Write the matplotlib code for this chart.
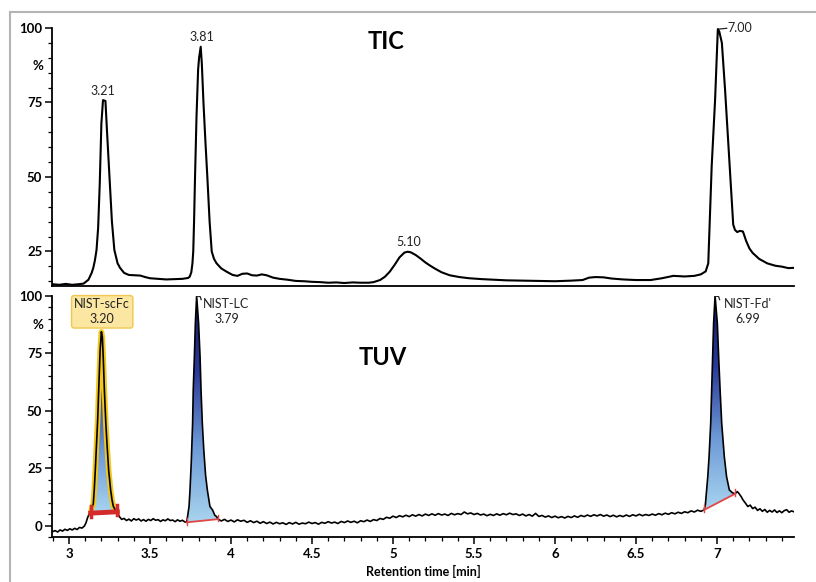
import numpy as np
import matplotlib.pyplot as plt
from matplotlib.colors import LinearSegmentedColormap
from matplotlib.patches import Polygon, Rectangle
from matplotlib.ticker import MultipleLocator

plt.rcParams['font.family'] = ['Lato', 'DejaVu Sans']

# TIC trace (time [min], % intensity)
tic = [
    (2.90, 14.0), (2.94, 13.8), (2.98, 14.1), (3.02, 13.8), (3.06, 14.0), (3.09, 14.2),
    (3.12, 15.5), (3.14, 17.8), (3.15, 19.5), (3.16, 22.0), (3.17, 25.5), (3.18, 33.0),
    (3.19, 48.0), (3.20, 68.0), (3.21, 75.8), (3.225, 75.5), (3.235, 65.0), (3.25, 50.0),
    (3.265, 35.0), (3.28, 25.5), (3.30, 21.0), (3.315, 19.5), (3.34, 17.8), (3.37, 17.1),
    (3.40, 17.0), (3.44, 16.9), (3.47, 16.4), (3.50, 16.0), (3.55, 15.8), (3.60, 15.6),
    (3.65, 15.7), (3.70, 15.8), (3.735, 16.1), (3.745, 16.5), (3.755, 18.0), (3.762, 21.0),
    (3.767, 25.0), (3.772, 35.0), (3.778, 50.0), (3.787, 70.0), (3.797, 86.0), (3.803, 90.0),
    (3.813, 93.7), (3.820, 88.0), (3.830, 75.0), (3.842, 62.0), (3.854, 50.0), (3.868, 35.0),
    (3.881, 25.0), (3.895, 22.5), (3.911, 21.0), (3.94, 19.3), (3.973, 18.2), (4.01, 17.1),
    (4.04, 16.8), (4.07, 17.5), (4.10, 17.6), (4.13, 17.0), (4.16, 16.9), (4.19, 17.3),
    (4.22, 17.0), (4.26, 16.2), (4.30, 15.8), (4.35, 15.5), (4.40, 15.1), (4.45, 15.0),
    (4.50, 14.8), (4.55, 14.7), (4.60, 14.5), (4.65, 14.6), (4.70, 14.4), (4.75, 14.6),
    (4.80, 14.5), (4.85, 14.5), (4.88, 14.7), (4.92, 15.4), (4.95, 16.5), (4.98, 18.2),
    (5.01, 20.5), (5.04, 23.0), (5.07, 24.6), (5.09, 24.9), (5.11, 24.7), (5.14, 23.8),
    (5.17, 22.6), (5.20, 21.3), (5.23, 20.2), (5.26, 19.2), (5.30, 18.0), (5.35, 17.0),
    (5.41, 16.4), (5.47, 16.0), (5.55, 15.7), (5.62, 15.5), (5.70, 15.3), (5.80, 15.2),
    (5.90, 15.1), (6.00, 15.0), (6.10, 15.2), (6.17, 15.4), (6.21, 16.2), (6.25, 16.4),
    (6.30, 16.3), (6.35, 15.9), (6.42, 15.6), (6.50, 15.4), (6.59, 15.4), (6.66, 16.0),
    (6.73, 16.8), (6.80, 16.6), (6.86, 16.8), (6.90, 17.3), (6.93, 18.3), (6.946, 21.0),
    (6.955, 35.0), (6.967, 53.5), (6.978, 65.0), (6.988, 75.8), (6.998, 90.0), (7.005, 99.6),
    (7.014, 98.8), (7.030, 95.0), (7.050, 79.0), (7.070, 61.0), (7.090, 43.0), (7.100, 34.0),
    (7.111, 32.2), (7.125, 31.5), (7.14, 31.9), (7.16, 31.7), (7.18, 28.5), (7.20, 26.0),
    (7.22, 24.5), (7.26, 22.5), (7.31, 21.0), (7.36, 20.2), (7.40, 19.9), (7.44, 19.4),
    (7.475, 19.5),
]
tic_labels = [(3.21, 77.0, "3.21"), (3.82, 94.8, "3.81"), (5.10, 26.0, "5.10")]

# TUV trace, split in pieces
tuv_start = [
    (2.900, -2.6), (2.915, -2.2), (2.930, -2.8), (2.945, -1.9), (2.960, -2.4), (2.975, -1.6),
    (2.990, -2.1), (3.005, -1.4), (3.020, -1.9), (3.035, -1.2), (3.050, -1.7), (3.065, -0.8),
    (3.080, -1.1), (3.095, -0.2), (3.105, 1.2), (3.115, 3.5), (3.125, 5.0), (3.134, 5.4),
]
tuv_scfc = [
    (3.140, 7.5), (3.150, 9.5), (3.156, 15.5), (3.163, 25.0), (3.170, 36.0), (3.177, 46.0),
    (3.185, 62.0), (3.192, 76.0), (3.200, 84.3), (3.206, 82.0), (3.212, 72.0), (3.219, 58.0),
    (3.227, 45.0), (3.235, 35.0), (3.245, 24.0), (3.257, 15.5), (3.266, 11.0), (3.274, 8.3),
    (3.286, 6.8), (3.298, 6.0),
]
tuv_mid1 = [
    (3.310, 4.0), (3.325, 2.7), (3.340, 3.1), (3.355, 2.2), (3.370, 2.8), (3.385, 2.0),
    (3.400, 3.0), (3.415, 2.4), (3.430, 2.9), (3.445, 2.0), (3.460, 2.6), (3.475, 1.9),
    (3.490, 2.7), (3.505, 2.2), (3.520, 3.0), (3.535, 2.3), (3.550, 2.6), (3.565, 1.8),
    (3.580, 2.5), (3.595, 2.1), (3.610, 2.9), (3.625, 2.2), (3.640, 2.4), (3.655, 1.7),
    (3.670, 2.5), (3.685, 1.9), (3.700, 2.3), (3.715, 1.6), (3.726, 1.4),
]
tuv_lc = [
    (3.732, 4.0), (3.741, 8.3), (3.747, 15.5), (3.755, 28.0), (3.763, 44.5), (3.767, 59.0),
    (3.774, 73.5), (3.780, 88.0), (3.788, 99.9), (3.800, 88.0), (3.809, 73.5), (3.815, 59.0),
    (3.823, 44.5), (3.832, 33.0), (3.843, 22.0), (3.854, 15.5), (3.870, 8.3), (3.886, 6.8),
    (3.900, 4.5), (3.911, 3.9), (3.920, 2.8),
]
tuv_mid2 = [
    (3.94, 2.0), (3.96, 2.7), (3.98, 1.8), (4.00, 2.4), (4.02, 1.6), (4.04, 2.5), (4.06, 1.9),
    (4.08, 2.3), (4.10, 1.4), (4.12, 2.1), (4.14, 1.3), (4.16, 1.9), (4.18, 1.0), (4.20, 1.7),
    (4.22, 0.9), (4.24, 1.5), (4.26, 0.7), (4.28, 1.4), (4.30, 0.8), (4.32, 1.2), (4.34, 0.5),
    (4.36, 1.3), (4.38, 0.7), (4.40, 1.4), (4.42, 0.6), (4.44, 1.1), (4.46, 0.8), (4.48, 1.5),
    (4.50, 0.9), (4.52, 1.3), (4.54, 0.6), (4.56, 1.4), (4.58, 1.0), (4.60, 1.7), (4.62, 1.1),
    (4.64, 1.5), (4.66, 0.9), (4.68, 1.8), (4.70, 1.3), (4.72, 2.0), (4.74, 1.4), (4.76, 1.9),
    (4.78, 1.2), (4.80, 2.1), (4.82, 1.7), (4.84, 2.4), (4.86, 1.8), (4.88, 2.6), (4.90, 2.2),
    (4.92, 3.1), (4.94, 2.7), (4.96, 3.6), (4.98, 3.2), (5.00, 4.1), (5.02, 3.5), (5.04, 4.3),
    (5.06, 3.8), (5.08, 4.5), (5.10, 3.9), (5.12, 4.7), (5.14, 4.1), (5.16, 4.8), (5.18, 4.2),
    (5.20, 5.0), (5.22, 4.4), (5.24, 5.1), (5.26, 4.5), (5.28, 5.2), (5.30, 4.6), (5.32, 5.0),
    (5.34, 4.4), (5.36, 5.3), (5.38, 4.7), (5.40, 5.2), (5.42, 4.8), (5.44, 5.9), (5.46, 5.1),
    (5.48, 5.5), (5.50, 4.8), (5.52, 5.3), (5.54, 4.6), (5.56, 5.0), (5.58, 4.3), (5.60, 4.9),
    (5.62, 4.4), (5.64, 5.1), (5.66, 4.5), (5.68, 5.2), (5.70, 4.7), (5.72, 5.4), (5.74, 4.8),
    (5.76, 5.1), (5.78, 4.4), (5.80, 5.0), (5.82, 4.2), (5.84, 4.8), (5.86, 4.1), (5.88, 5.3),
    (5.90, 4.0), (5.92, 4.4), (5.94, 3.7), (5.96, 4.2), (5.98, 3.5), (6.00, 4.1), (6.02, 3.4),
    (6.04, 3.9), (6.06, 3.3), (6.08, 4.0), (6.10, 3.5), (6.12, 4.2), (6.14, 3.6), (6.16, 4.4),
    (6.18, 3.9), (6.20, 4.6), (6.22, 4.0), (6.24, 4.7), (6.26, 4.2), (6.28, 4.8), (6.30, 4.1),
    (6.32, 4.6), (6.34, 3.9), (6.36, 4.5), (6.38, 3.8), (6.40, 4.4), (6.42, 3.9), (6.44, 4.6),
    (6.46, 4.0), (6.48, 4.7), (6.50, 4.2), (6.52, 4.9), (6.54, 4.3), (6.56, 4.8), (6.58, 4.4),
    (6.60, 5.0), (6.62, 4.5), (6.64, 5.2), (6.66, 4.7), (6.68, 5.4), (6.70, 4.9), (6.72, 5.6),
    (6.74, 5.1), (6.76, 5.8), (6.78, 5.3), (6.80, 6.0), (6.82, 5.6), (6.84, 6.4), (6.86, 5.9),
    (6.88, 6.7), (6.90, 6.2), (6.92, 6.8),
]
tuv_fd = [
    (6.928, 9.0), (6.936, 15.5), (6.943, 21.3), (6.951, 30.0), (6.961, 44.5), (6.967, 59.0),
    (6.973, 73.5), (6.979, 88.0), (6.988, 99.9), (7.002, 88.0), (7.010, 73.5), (7.019, 59.0),
    (7.029, 44.5), (7.045, 30.0), (7.059, 21.3), (7.076, 15.5), (7.095, 14.3), (7.111, 13.8),
]
tuv_end = [
    (7.125, 14.8), (7.135, 14.0), (7.150, 12.5), (7.160, 11.2), (7.175, 9.8), (7.190, 8.3),
    (7.205, 8.9), (7.220, 7.4), (7.235, 8.0), (7.250, 6.6), (7.265, 7.3), (7.280, 6.2),
    (7.295, 7.0), (7.310, 5.8), (7.325, 6.6), (7.340, 5.9), (7.355, 6.8), (7.370, 5.7),
    (7.385, 6.4), (7.400, 5.6), (7.415, 6.5), (7.430, 6.9), (7.445, 5.8), (7.460, 6.4),
    (7.475, 6.0),
]

# integrated peaks: name, retention time, start, end
peak_names = ["NIST-scFc", "NIST-LC", "NIST-Fd'"]
peak_rt = ["3.20", "3.79", "6.99"]
peak_start = [3.134, 3.726, 6.920]
peak_end = [3.298, 3.920, 7.111]

tic_t, tic_v = np.array(tic).T
tuv = np.array(tuv_start + tuv_scfc + tuv_mid1 + tuv_lc + tuv_mid2 + tuv_fd + tuv_end)
tuv_t, tuv_v = tuv[:, 0], tuv[:, 1]

fig = plt.figure(figsize=(8.16, 5.82), dpi=100)
ax1 = fig.add_axes([0.0637, 0.5086, 0.9093, 0.4433])
ax2 = fig.add_axes([0.0637, 0.0768, 0.9093, 0.4151])

fig.add_artist(Rectangle((0.0123, -0.05), 1.05, 1.03, transform=fig.transFigure,
                         fill=False, edgecolor='#b4b4b4', lw=1.5))

# ---- TIC ----
ax1.plot(tic_t, tic_v, color='black', lw=1.5, zorder=3)
for x, y, s in tic_labels:
    ax1.text(x, y, s, ha='center', va='bottom', fontsize=9, color='#222222')
i_max = np.argmax(tic_v)
ax1.plot([tic_t[i_max], tic_t[i_max] + 0.055], [tic_v[i_max], tic_v[i_max] + 0.3],
         color='#222222', lw=0.9, clip_on=False)
ax1.text(tic_t[i_max] + 0.058, tic_v[i_max] + 0.3, "7.00", ha='left', va='center',
         fontsize=9, color='#222222')
ax1.text(4.96, 95.3, "TIC", ha='center', va='center', fontsize=17, fontweight='bold')
ax1.set_xlim(2.895, 7.475)
ax1.set_ylim(13.4, 100)

# ---- TUV ----
cmap = LinearSegmentedColormap.from_list('peak', ['#a8d4ef', '#6d9ad6', '#2a3a98', '#141a66'])
grad = np.linspace(0, 1, 256).reshape(-1, 1)

for k in range(len(peak_names)):
    t0, t1 = peak_start[k], peak_end[k]
    b0, b1 = np.interp(t0, tuv_t, tuv_v), np.interp(t1, tuv_t, tuv_v)
    m = (tuv_t >= t0) & (tuv_t <= t1)
    pt, pv = tuv_t[m], tuv_v[m]
    poly = Polygon(list(zip(pt, pv)) + [(t1, b1), (t0, b0)], closed=True,
                   facecolor='none', edgecolor='none')
    ax2.add_patch(poly)
    im = ax2.imshow(grad, extent=[t0, t1, min(b0, b1), pv.max()], origin='lower',
                    aspect='auto', cmap=cmap, zorder=1)
    im.set_clip_path(poly)
    if k == 0:
        ax2.plot(pt, pv, color='#f2c81e', lw=4, zorder=2, solid_capstyle='round')
        ax2.plot([t0, t1], [b0, b1], color='#d42a2a', lw=3.5, zorder=4)
        for tx, bx in [(t0, b0), (t1, b1)]:
            ax2.plot([tx, tx], [bx - 1.5, bx + 3], color='#d42a2a', lw=2.5, zorder=4)
    else:
        ax2.plot([t0, t1], [b0, b1], color='#e04646', lw=1.3, zorder=4)
        for tx, bx in [(t0, b0), (t1, b1)]:
            ax2.plot([tx, tx], [bx - 1, bx + 2], color='#e04646', lw=1.0, zorder=4)

ax2.plot(tuv_t, tuv_v, color='black', lw=1.2, zorder=3)

# peak labels
ax2.text(3.205, 93.0, peak_names[0] + "\n" + peak_rt[0], ha='center', va='center',
         fontsize=9, color='#222222', linespacing=1.3,
         bbox=dict(boxstyle='round,pad=0.22', facecolor='#fbe6a2', edgecolor='#f0c850', lw=1))
for k, lx in [(1, 3.972), (2, 7.19)]:
    pk = np.array([tuv_lc, tuv_fd][k - 1])
    ax_, ay_ = pk[np.argmax(pk[:, 1]), 0], pk[:, 1].max()
    ax2.plot([ax_, ax_ + 0.022, ax_ + 0.028], [ay_, ay_ - 0.3, ay_ - 1.6],
             color='#222222', lw=0.9, zorder=5)
    ax2.text(lx, 93.3, peak_names[k] + "\n" + peak_rt[k], ha='center', va='center',
             fontsize=9, color='#222222', linespacing=1.3)

ax2.text(4.935, 73.3, "TUV", ha='center', va='center', fontsize=17, fontweight='bold')
ax2.set_xlim(2.895, 7.475)
ax2.set_ylim(-5.1, 100)

# ---- axes styling ----
for ax, yt in [(ax1, [25, 50, 75, 100]), (ax2, [0, 25, 50, 75, 100])]:
    for s in ['top', 'right']:
        ax.spines[s].set_visible(False)
    for s in ['left', 'bottom']:
        ax.spines[s].set_linewidth(1.3)
    ax.set_yticks(yt, labels=[str(v) for v in yt], fontweight='bold', fontsize=9.5)
    ax.yaxis.set_minor_locator(MultipleLocator(5))
    ax.tick_params(axis='y', which='major', length=5, width=1.1, pad=2)
    ax.tick_params(axis='y', which='minor', length=3, width=0.9)
    ax.text(-0.019, 87.3, "%", transform=ax.get_yaxis_transform(), ha='center',
            va='center', fontsize=9.5, fontweight='bold')

ax1.tick_params(axis='x', which='both', bottom=False, labelbottom=False)
xt = [3, 3.5, 4, 4.5, 5, 5.5, 6, 6.5, 7]
ax2.set_xticks(xt, labels=['3', '3.5', '4', '4.5', '5', '5.5', '6', '6.5', '7'],
               fontweight='bold', fontsize=9.5)
ax2.xaxis.set_minor_locator(MultipleLocator(0.1))
ax2.tick_params(axis='x', which='major', length=5, width=1.1, pad=3)
ax2.tick_params(axis='x', which='minor', length=3, width=0.9)
ax2.set_xlabel("Retention time [min]", fontsize=9, fontweight='bold', labelpad=3)

fig.savefig("out.png", dpi=100)
